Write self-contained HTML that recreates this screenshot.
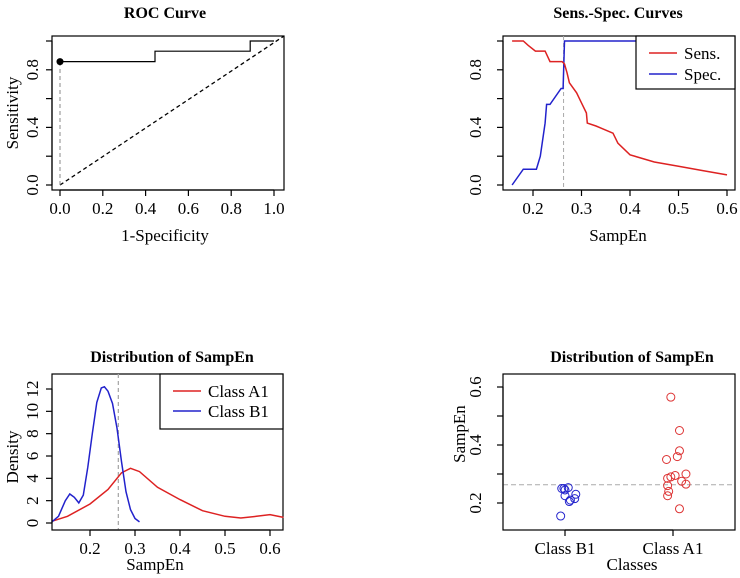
<!DOCTYPE html>
<html><head><meta charset="utf-8"><style>
body{margin:0;background:#fff;}
svg{display:block;font-family:"Liberation Serif",serif;}
</style></head><body>
<svg id="c" width="740" height="578" viewBox="0 0 740 578" xmlns="http://www.w3.org/2000/svg"></svg>
<script>
// ---- data ----
const rocFpr = [0, 0.444, 0.444, 0.889, 0.889, 1.0];
const rocTpr = [0.857, 0.857, 0.929, 0.929, 1.0, 1.0];
const rocBest = [0, 0.857];
const ssX = [0.157,0.18,0.19,0.205,0.225,0.235,0.26,0.265,0.27,0.275,0.29,0.30,0.31,0.312,0.33,0.365,0.375,0.4,0.45,0.5,0.55,0.6];
const sensY = [1,1,0.97,0.93,0.93,0.857,0.857,0.84,0.78,0.71,0.64,0.57,0.5,0.43,0.41,0.36,0.29,0.21,0.16,0.13,0.10,0.07];
const specX = [0.157,0.18,0.207,0.215,0.225,0.228,0.235,0.258,0.262,0.265,0.6];
const specY = [0,0.11,0.11,0.2,0.43,0.56,0.56,0.67,0.67,1,1];
const cutoff = 0.263;
const densBX = [0.115,0.13,0.145,0.155,0.165,0.175,0.185,0.195,0.205,0.215,0.225,0.232,0.24,0.25,0.26,0.27,0.28,0.29,0.30,0.31];
const densBY = [0.1,0.6,2.0,2.6,2.3,1.8,2.5,5,8,10.8,12.1,12.2,11.8,10.7,8.5,5.5,2.8,1.2,0.4,0.1];
const densAX = [0.115,0.15,0.2,0.24,0.27,0.29,0.31,0.35,0.4,0.45,0.5,0.535,0.57,0.6,0.63];
const densAY = [0.15,0.6,1.7,3.0,4.5,4.9,4.6,3.2,2.1,1.1,0.6,0.45,0.6,0.75,0.5];
const classNames = ["Class B1","Class A1"];
const b1Vals = [0.25,0.25,0.253,0.245,0.225,0.23,0.215,0.21,0.205,0.155];
const b1Jit = [-0.03,-0.01,0.03,0.0,0.0,0.1,0.09,0.05,0.04,-0.04];
const a1Vals = [0.565,0.45,0.38,0.36,0.35,0.30,0.295,0.29,0.285,0.275,0.265,0.26,0.24,0.225,0.18];
const a1Jit = [-0.02,0.06,0.06,0.04,-0.06,0.12,0.02,-0.02,-0.05,0.08,0.12,-0.05,-0.04,-0.05,0.06];
const rocTicks = [0,0.2,0.4,0.6,0.8,1.0];
const rocTickLabels = ["0.0","0.2","0.4","0.6","0.8","1.0"];
const yTicks01 = [0,0.2,0.4,0.6,0.8,1.0];
const yTickLabels01 = ["0.0","","0.4","","0.8",""];
const ssXTicks = [0.2,0.3,0.4,0.5,0.6];
const ssXLabels = ["0.2","0.3","0.4","0.5","0.6"];
const densYTicks = [0,2,4,6,8,10,12];
const densXTicks = [0.2,0.3,0.4,0.5,0.6];
const stripYTicks = [0.2,0.3,0.4,0.5,0.6];
const stripYLabels = ["0.2","","0.4","","0.6"];

// ---- helpers ----
const svg = document.getElementById('c');
const NS = 'http://www.w3.org/2000/svg';
const FS = 17;
function mk(tag, attrs, parent){const e=document.createElementNS(NS,tag);for(const k in attrs)e.setAttribute(k,attrs[k]);(parent||svg).appendChild(e);return e;}
function txt(s,x,y,opt,parent){const e=mk('text',Object.assign({x:x,y:y,'text-anchor':'middle','font-size':FS,fill:'#000'},opt||{}),parent);e.textContent=s;return e;}
function lin(d0,d1,r0,r1){return v=>r0+(v-d0)/(d1-d0)*(r1-r0);}
function pathOf(xs,ys,sx,sy){return xs.map((v,i)=>(i?'L':'M')+sx(v).toFixed(1)+','+sy(ys[i]).toFixed(1)).join(' ');}
function box(x0,y0,x1,y1,g){mk('rect',{x:x0,y:y0,width:x1-x0,height:y1-y0,fill:'none',stroke:'#000','stroke-width':1.2},g);}
function xAxis(ticks,labels,sx,yb,g,ly){ticks.forEach((t,i)=>{mk('line',{x1:sx(t),x2:sx(t),y1:yb,y2:yb+6,stroke:'#000','stroke-width':1.2},g);if(labels[i])txt(labels[i],sx(t),ly,{},g);});
  mk('line',{x1:sx(ticks[0]),x2:sx(ticks[ticks.length-1]),y1:yb,y2:yb,stroke:'#000','stroke-width':1.2},g);}
function yAxis(ticks,labels,sy,xl,g,lx){ticks.forEach((t,i)=>{mk('line',{x1:xl,x2:xl-6,y1:sy(t),y2:sy(t),stroke:'#000','stroke-width':1.2},g);if(labels[i]!=='')txt(labels[i],lx,sy(t),{transform:`rotate(-90 ${lx} ${sy(t)})`},g);});
  mk('line',{x1:xl,x2:xl,y1:sy(ticks[0]),y2:sy(ticks[ticks.length-1]),stroke:'#000','stroke-width':1.2},g);}

// ---- Panel 1: ROC ----
(function(){
 const g=mk('g',{});
 
 
 const sx=lin(0,1,60,274), sy=lin(0,1,185,41);
 txt('ROC Curve',165,18,{'font-weight':'bold','font-size':16},g);
 box(52,36,284,190,g);
 mk('line',{x1:sx(0),y1:sy(0),x2:284,y2:36,stroke:'#000','stroke-dasharray':'4,3','stroke-width':1.3},g);
 mk('line',{x1:sx(rocBest[0]),y1:sy(0),x2:sx(rocBest[0]),y2:sy(rocBest[1]),stroke:'#888','stroke-dasharray':'4,3'},g);
 const p=mk('path',{d:pathOf(rocFpr,rocTpr,sx,sy),fill:'none',stroke:'#000','stroke-width':1.2},g);
 
 const c=mk('circle',{cx:sx(rocBest[0]),cy:sy(rocBest[1]),r:3.5,fill:'#000'},g);
 
 xAxis(rocTicks,rocTickLabels,sx,190,g,214);
 yAxis(yTicks01,yTickLabels01,sy,52,g,38);
 txt('1-Specificity',165,241,{},g);
 txt('Sensitivity',18,113,{transform:'rotate(-90 18 113)'},g);
})();

// ---- Panel 2: Sens/Spec ----
(function(){
 const g=mk('g',{});
 
 
 const sx=lin(0.2,0.6,533,727), sy=lin(0,1,185,41);
 txt('Sens.-Spec. Curves',618,18,{'font-weight':'bold','font-size':16},g);
 box(503,36,735,190,g);
 mk('line',{x1:sx(cutoff),x2:sx(cutoff),y1:36,y2:190,stroke:'#aaa','stroke-dasharray':'4,3'},g);
 const s1=mk('path',{d:pathOf(specX,specY,sx,sy),fill:'none',stroke:'#2222cc','stroke-width':1.5},g);
 
 const s2=mk('path',{d:pathOf(ssX,sensY,sx,sy),fill:'none',stroke:'#dd2222','stroke-width':1.5},g);
 
 const lg=mk('g',{},g);
 
 
 mk('rect',{x:636,y:36,width:99,height:53,fill:'#fff',stroke:'#000','stroke-width':1.2},lg);
 mk('line',{x1:649,x2:677,y1:53,y2:53,stroke:'#dd2222','stroke-width':1.5},lg);
 mk('line',{x1:649,x2:677,y1:74,y2:74,stroke:'#2222cc','stroke-width':1.5},lg);
 txt('Sens.',684,59,{'text-anchor':'start'},lg);
 txt('Spec.',684,80,{'text-anchor':'start'},lg);
 xAxis(ssXTicks,ssXLabels,sx,190,g,214);
 yAxis(yTicks01,yTickLabels01,sy,503,g,481);
 txt('SampEn',618,241,{},g);
})();

// ---- Panel 3: density ----
(function(){
 const g=mk('g',{});
 
 
 const sx=lin(0.1,0.2,45,90), sy=lin(0,12,523,389);
 txt('Distribution of SampEn',172,362,{'font-weight':'bold','font-size':16},g);
 box(52,374,283,530,g);
 mk('line',{x1:sx(cutoff),x2:sx(cutoff),y1:374,y2:530,stroke:'#aaa','stroke-dasharray':'4,3','stroke-width':1.3},g);
 const a=mk('path',{d:pathOf(densAX,densAY,sx,sy),fill:'none',stroke:'#dd2222','stroke-width':1.5},g);
 
 const b=mk('path',{d:pathOf(densBX,densBY,sx,sy),fill:'none',stroke:'#2222cc','stroke-width':1.5},g);
 
 const lg=mk('g',{},g);
 
 
 mk('rect',{x:160,y:374,width:123,height:55,fill:'#fff',stroke:'#000','stroke-width':1.2},lg);
 mk('line',{x1:173,x2:201,y1:391,y2:391,stroke:'#dd2222','stroke-width':1.5},lg);
 mk('line',{x1:173,x2:201,y1:411,y2:411,stroke:'#2222cc','stroke-width':1.5},lg);
 txt('Class A1',208,397,{'text-anchor':'start'},lg);
 txt('Class B1',208,417,{'text-anchor':'start'},lg);
 xAxis(densXTicks,densXTicks.map(String),sx,530,g,554);
 yAxis(densYTicks,densYTicks.map(String),sy,52,g,38);
 txt('SampEn',155,570,{},g);
 txt('Density',18,457,{transform:'rotate(-90 18 457)'},g);
})();

// ---- Panel 4: strip chart ----
(function(){
 const g=mk('g',{});
 
 
 const sx=lin(1,2,565,673), sy=lin(0.2,0.6,503,387);
 txt('Distribution of SampEn',632,362,{'font-weight':'bold','font-size':16},g);
 box(503,374,735,530,g);
 mk('line',{x1:503,x2:735,y1:sy(cutoff),y2:sy(cutoff),stroke:'#aaa','stroke-dasharray':'5,3'},g);
 b1Vals.forEach((v,i)=>{const c=mk('circle',{cx:sx(1+b1Jit[i]),cy:sy(v),r:4,fill:'none',stroke:'#2222cc'},g);
  });
 a1Vals.forEach((v,i)=>{const c=mk('circle',{cx:sx(2+a1Jit[i]),cy:sy(v),r:4,fill:'none',stroke:'#dd3333'},g);
  });
 xAxis([1,2],classNames,sx,530,g,554);
 yAxis(stripYTicks,stripYLabels,sy,503,g,481);
 txt('Classes',632,570,{},g);
 txt('SampEn',465,434,{transform:'rotate(-90 465 434)'},g);
})();
</script>
</body></html>
